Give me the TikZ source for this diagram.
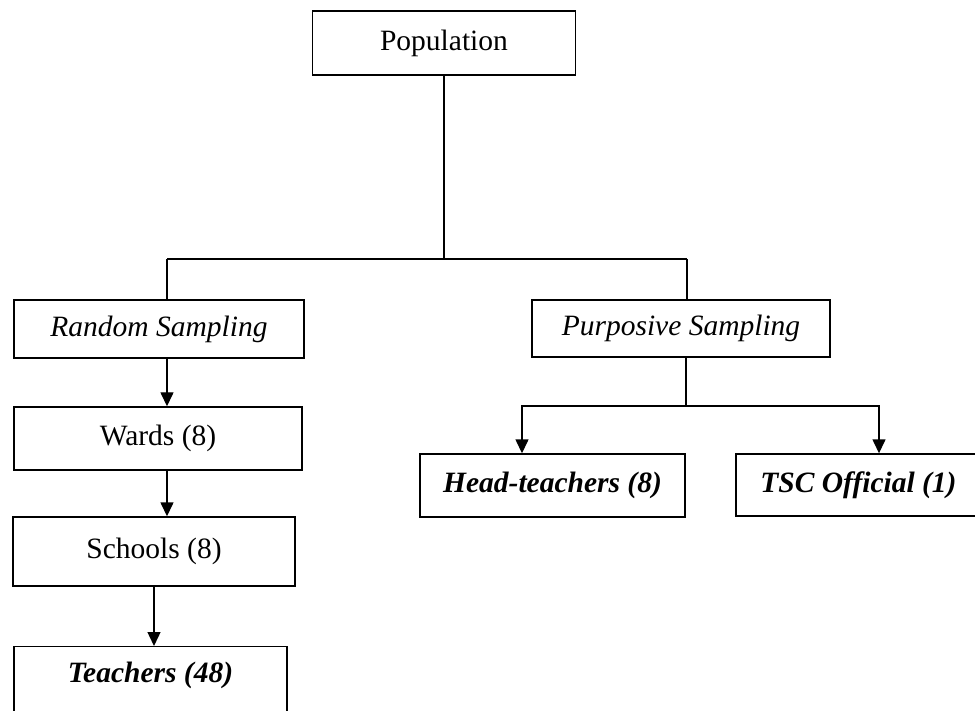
\documentclass[tikz,border=0pt]{standalone}
\usepackage{fontspec}
\setmainfont{Liberation Serif}
\usetikzlibrary{arrows.meta}

\tikzset{
    box/.style={draw, line width=1.4pt, inner sep=0pt, font=\fontsize{29.5}{35}\selectfont},
    arr/.style={line width=1.4pt, -{Triangle[width=13pt,length=14pt]}},
    link/.style={line width=1.4pt}
}

\begin{document}
\begin{tikzpicture}[x=1pt,y=-1pt]
    \useasboundingbox (0,0) rectangle (975,711);
    \node[box, minimum width=263pt, minimum height=64pt] (pop) at (444,43) {Population};
    \node[box, minimum width=290pt, minimum height=58pt] (rand) at (159,329) {\itshape Random Sampling};
    \node[box, minimum width=298pt, minimum height=57pt] (purp) at (681,328.5) {\itshape Purposive Sampling};
    \node[box, minimum width=288pt, minimum height=63pt] (wards) at (158,438.5) {Wards (8)};
    \node[box, minimum width=282pt, minimum height=69pt] (schools) at (154,551.5) {Schools (8)};
    \node[box, minimum width=273pt, minimum height=70pt, anchor=north,
          text height=20pt, text depth=18pt] (teach) at (150.5,646) {\bfseries\itshape Teachers (48)};
    \node[box, minimum width=265pt, minimum height=63pt] (head) at (552.5,485.5) {\bfseries\itshape Head-teachers (8)};
    \node[box, minimum width=245pt, minimum height=62pt] (tsc) at (858.5,485) {\bfseries\itshape TSC Official (1)};

    % split below the population
    \coordinate (split) at (444,259);
    \coordinate (rtop) at (167,259);
    \coordinate (ptop) at (687,259);
    \draw[link] (pop.south) -- (split);
    \draw[link] (rtop) -- (ptop);
    \draw[link] (rtop) -- (rtop |- rand.north);
    \draw[link] (ptop) -- (ptop |- purp.north);

    % random branch
    \draw[arr] ([xshift=8pt]rand.south) -- ([xshift=8pt]rand.south |- wards.north);
    \draw[arr] ([xshift=9pt]wards.south) -- ([xshift=9pt]wards.south |- schools.north);
    \draw[arr] (schools.south) -- (schools.south |- teach.north);

    % purposive branch
    \coordinate (pjoin) at (686,406);
    \coordinate (hl) at (522,406);
    \coordinate (hr) at (879,406);
    \draw[link] (purp.south -| pjoin) -- (pjoin);
    \draw[arr] (pjoin) -- (hl) -- (hl |- head.north);
    \draw[arr] (pjoin) -- (hr) -- (hr |- tsc.north);
\end{tikzpicture}
\end{document}
